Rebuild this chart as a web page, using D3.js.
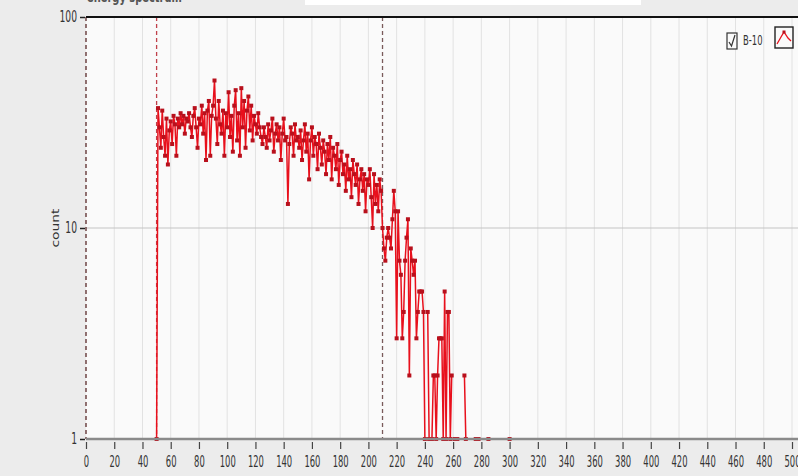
<!DOCTYPE html>
<html>
<head>
<meta charset="utf-8">
<script src="https://cdn.jsdelivr.net/npm/d3@7"></script>
<style>
  body { margin: 0; background: #ececec; }
  svg { display: block; }
  .tick text { font-family: "DejaVu Sans Condensed", "Liberation Sans Narrow", sans-serif; font-size: 11px; fill: #333; }
  .lbl { font-family: "DejaVu Sans Condensed", "Liberation Sans Narrow", sans-serif; font-size: 11px; fill: #333; }
</style>
</head>
<body>
<svg id="chart" width="798" height="476"></svg>
<script>
// energy spectrum, counts per channel (null = empty channel)
const startChannel = 50;
const counts = [
  1,
  37, 30, 24, 36, 27, 22, 33, 20, 29, 32,
  25, 34, 31, 22, 33, 30, 35, 31, 34, 28,
  33, 32, 35, 30, 27, 34, 37, 30, 24, 33,
  31, 38, 28, 35, 21, 36, 40, 22, 34, 38,
  50, 33, 25, 40, 31, 28, 36, 22, 35, 30,
  44, 27, 34, 23, 38, 45, 26, 35, 22, 46,
  30, 40, 24, 36, 42, 29, 38, 26, 34, 31,
  28, 35, 30, 27, 25, 30, 27, 24, 31, 26,
  29, 33, 23, 28, 31, 26, 30, 21, 28, 33,
  26, 27, 13, 25, 30, 28, 22, 31, 26, 27,
  24, 29, 21, 26, 31, 23, 28, 17, 26, 30,
  22, 27, 25, 19, 28, 24, 20, 26, 23, 18,
  25, 21, 27, 17, 24, 22, 19, 25, 16, 21,
  23, 18, 20, 15, 22, 17, 19, 14, 21, 18,
  16, 20, 13, 17, 19, 15, 18, 12, 17, 16,
  19, 14, 10, 18, 13, 16, 12, 17, 15,
  // 210 ..
  10, 8, 7, 9, 10, 9, 8, 11, 15, 12,
  3, 12, 7, 6, 3, 4, 7, 9, 11, 2,
  8, 7, 6, 7, 3, 4, 5, 5, 5, 4,
  1, null, 4, 1, null, 1, 2, 2, 1, 2,
  3, 3, 3, 1, 5, 1, 4, 4, 1, 2,
  null, 1, 1, 1, null, null, null, null, 2, 1,
  null, null, null, null, null, null, 1, null, 1, null,
  null, null, null, null, null, 1, null, null, null, null,
  null, null, null, null, null, null, null, null, null, null,
  1
];
const xTicks = d3.range(0, 501, 20);
const yTicks = [1, 10, 100];
const cursors = [0, 50, 210];
const title = "energy spectrum";
const seriesName = "B-10";

const data = counts.map((c, i) => ({ ch: startChannel + i, c: c }));

const svg = d3.select("#chart");
const W = 798, H = 476;
const plotL = 86, plotT = 17, plotB = 439, plotR = 798;

const x = d3.scaleLinear().domain([0, 500]).range([plotL, 792]);
const y = d3.scaleLog().domain([1, 100]).range([plotB, plotT]);

svg.append("rect").attr("width", W).attr("height", H).attr("fill", "#ececec");
// white strip at top
svg.append("rect").attr("x", 305).attr("y", 0).attr("width", 336).attr("height", 5).attr("fill", "#ffffff");
// title (cut off at top)
svg.append("text").attr("class", "lbl").attr("transform", "translate(87,2) scale(1,1.3)")
  .style("font-size", "11px").style("font-weight", "bold").style("fill", "#555").text(title);

// plot area
svg.append("rect").attr("x", plotL).attr("y", plotT)
  .attr("width", plotR - plotL).attr("height", plotB - plotT).attr("fill", "#fafafa");

// vertical grid
svg.append("g").selectAll("line").data(xTicks.filter(d => d > 0)).join("line")
  .attr("x1", d => x(d)).attr("x2", d => x(d))
  .attr("y1", plotT).attr("y2", plotB)
  .attr("stroke", "#e2e2e2").attr("stroke-width", 1);

// horizontal grid at decade
svg.append("line").attr("x1", plotL).attr("x2", plotR)
  .attr("y1", y(10)).attr("y2", y(10))
  .attr("stroke", "#c4c4c4").attr("stroke-width", 1.2);

// cursor lines
svg.append("g").selectAll("line").data(cursors).join("line")
  .attr("x1", d => x(d)).attr("x2", d => x(d))
  .attr("y1", plotT).attr("y2", plotB)
  .attr("stroke", (d, i) => ["#5a2a2a", "#c0404a", "#7a5a5a"][i])
  .attr("stroke-width", 1.3)
  .attr("stroke-dasharray", "4,3");

// series line
const line = d3.line()
  .defined(d => d.c !== null)
  .x(d => x(d.ch))
  .y(d => y(d.c));

svg.append("path").datum(data)
  .attr("d", line)
  .attr("fill", "none")
  .attr("stroke", "#e8101c")
  .attr("stroke-width", 1.5);

svg.append("g").selectAll("rect").data(data.filter(d => d.c !== null)).join("rect")
  .attr("x", d => x(d.ch) - 2).attr("y", d => y(d.c) - 2)
  .attr("width", 4).attr("height", 4)
  .attr("fill", "#b8101c");

// frame
svg.append("line").attr("x1", plotL).attr("x2", plotR).attr("y1", plotT).attr("y2", plotT)
  .attr("stroke", "#111").attr("stroke-width", 2);

// x axis
const xAxis = svg.append("g").attr("transform", `translate(0,${plotB})`)
  .call(d3.axisBottom(x).tickValues(xTicks).tickSize(7).tickFormat(d3.format("d")));
xAxis.select(".domain").remove();
xAxis.selectAll(".tick line").attr("stroke", "#444").attr("stroke-width", 1.2).attr("transform", "translate(0,3)");
xAxis.selectAll(".tick text")
  .attr("y", 0).attr("dy", 0)
  .attr("transform", "scale(0.78,1.35) translate(0,21)")
  .style("font-size", "12px");
svg.append("line").attr("x1", plotL).attr("x2", plotR).attr("y1", plotB).attr("y2", plotB)
  .attr("stroke", "#8a8a8a").attr("stroke-width", 2.5);

// y axis
const yAxis = svg.append("g").attr("transform", `translate(${plotL - 1},0)`)
  .call(d3.axisLeft(y).tickValues(yTicks).tickSize(5).tickFormat(d3.format("d")));
yAxis.select(".domain").remove();
yAxis.selectAll(".tick line").attr("stroke", "#222").attr("stroke-width", 1.5);
yAxis.selectAll(".tick text")
  .attr("x", 0).attr("dy", 0)
  .attr("transform", "translate(-8,4) scale(0.85,1.35)")
  .style("font-size", "12px");

svg.append("text").attr("class", "lbl")
  .attr("transform", `translate(59,${y(10)}) rotate(-90) scale(1.4,0.95)`)
  .attr("text-anchor", "middle").text("count");

// legend
const lg = svg.append("g");
lg.append("rect").attr("x", 727).attr("y", 33).attr("width", 10).attr("height", 16)
  .attr("fill", "#fafafa").attr("stroke", "#333").attr("stroke-width", 1.2);
lg.append("path").attr("d", "M729,42 L731.5,46 L735,35")
  .attr("fill", "none").attr("stroke", "#333").attr("stroke-width", 1.2);
lg.append("text").attr("class", "lbl").attr("transform", "translate(743,45) scale(0.85,1.3)").text(seriesName);
lg.append("rect").attr("x", 775).attr("y", 27).attr("width", 18).attr("height", 21)
  .attr("fill", "#fafafa").attr("stroke", "#222").attr("stroke-width", 1.4);
lg.append("path").attr("d", "M777,44 L781,37 L784,32 L788,38 L791,41")
  .attr("fill", "none").attr("stroke", "#e8101c").attr("stroke-width", 1.3);
lg.append("rect").attr("x", 782.5).attr("y", 30.5).attr("width", 3).attr("height", 3).attr("fill", "#b8101c");
</script>
</body>
</html>
